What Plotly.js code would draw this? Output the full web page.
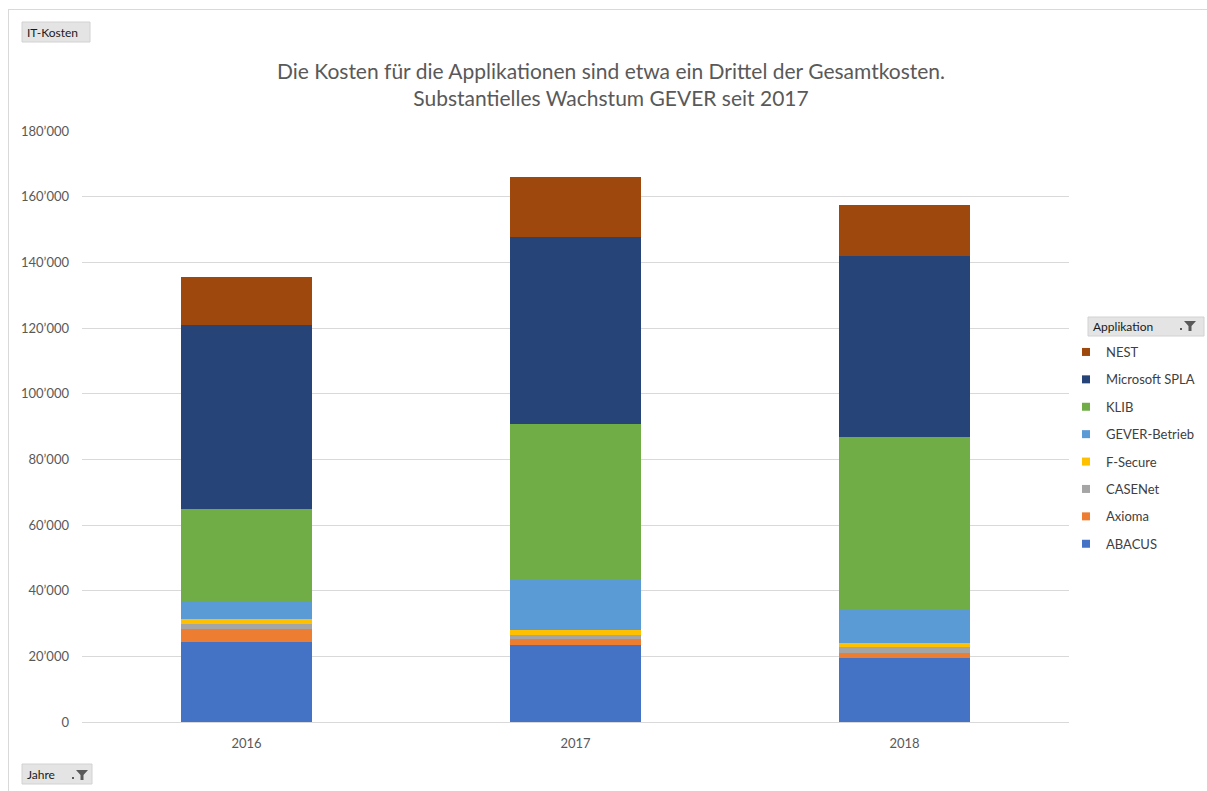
<!DOCTYPE html>
<html>
<head>
<meta charset="utf-8">
<script src="https://cdn.plot.ly/plotly-3.0.1.min.js"></script>
<style>
  html, body { margin: 0; padding: 0; background: #fff; }
  #chart { width: 1207px; height: 791px; }
  #frame { position: absolute; left: 8px; top: 9px; width: 1199px; height: 782px;
           border-top: 1px solid #d9d9d9; border-left: 1px solid #d9d9d9; pointer-events: none; }
</style>
</head>
<body>
<div id="chart"></div>
<div id="frame"></div>
<script>
const years = ['2016', '2017', '2018'];
const seriesNames = ['ABACUS', 'Axioma', 'CASENet', 'F-Secure', 'GEVER-Betrieb', 'KLIB', 'Microsoft SPLA', 'NEST'];
const ABACUS = [24500, 23500, 19400];
const Axioma = [3700, 1750, 1500];
const CASENet = [1700, 1300, 1850];
const FSecure = [1400, 1600, 1250];
const GEVER = [5600, 15100, 10100];
const KLIB = [28000, 47600, 52700];
const SPLA = [56000, 56900, 55100];
const NEST = [14600, 18300, 15600];
const seriesValues = [ABACUS, Axioma, CASENet, FSecure, GEVER, KLIB, SPLA, NEST];
const colors = ['#4472C4', '#ED7D31', '#A5A5A5', '#FFC000', '#5B9BD5', '#70AD47', '#264478', '#9E480E'];

const FONT = 'Lato, "Open Sans", sans-serif';
const W = 1207, H = 791;
const L = 82, RM = 0, T = 131, B = 722, PLOT_R = 1069;
const PW = W - L - RM;
const px2x = p => (p - L) / PW;
const py2y = p => (B - p) / (B - T);

const barTraces = seriesNames.map((n, i) => ({
  type: 'bar', name: n, x: years, y: seriesValues[i],
  showlegend: false,
  marker: { color: colors[i], line: { width: 0 } }
}));
// legend entries (small square swatches like the original)
const legendTraces = seriesNames.map((n, i) => ({
  type: 'scatter', mode: 'markers', name: n, x: [null], y: [null],
  legendgroup: n, legendrank: seriesNames.length - i,
  marker: { symbol: 'square', size: 8, color: colors[i] },
  hoverinfo: 'skip'
}));

function funnel(cx, cy) {
  const x = px2x, y = py2y;
  return [
    { type: 'path', xref: 'paper', yref: 'paper',
      path: `M ${x(cx-6)} ${y(cy-5)} L ${x(cx+6)} ${y(cy-5)} L ${x(cx+1.5)} ${y(cy)} L ${x(cx+1.5)} ${y(cy+5)} L ${x(cx-1.5)} ${y(cy+5)} L ${x(cx-1.5)} ${y(cy)} Z`,
      fillcolor: '#595959', line: { width: 0 } },
    { type: 'rect', xref: 'paper', yref: 'paper',
      x0: x(cx-10), x1: x(cx-8), y0: y(cy+4), y1: y(cy+2),
      fillcolor: '#595959', line: { width: 0 } }
  ];
}
function button(x0, y0, x1, y1) {
  return { type: 'rect', xref: 'paper', yref: 'paper',
    x0: px2x(x0), x1: px2x(x1), y0: py2y(y1), y1: py2y(y0),
    fillcolor: '#e4e4e4', line: { color: '#d2d2d2', width: 1 } };
}
function label(text, px, py) {
  return { text: text, xref: 'paper', yref: 'paper', x: px2x(px), y: py2y(py),
    xanchor: 'left', yanchor: 'middle', showarrow: false,
    font: { family: FONT, size: 12, color: '#1a1a1a' } };
}

const layout = {
  width: W, height: H,
  margin: { l: L, r: RM, t: T, b: H - B, pad: 0 },
  paper_bgcolor: '#fff', plot_bgcolor: '#fff',
  font: { family: FONT, size: 13, color: '#595959' },
  separators: '.’',
  barmode: 'stack',
  bargap: 0.6,
  title: {
    text: 'Die Kosten für die Applikationen sind etwa ein Drittel der Gesamtkosten.<br>Substantielles Wachstum GEVER seit 2017',
    font: { family: FONT, size: 21, color: '#595959' },
    x: 611 / W, xanchor: 'center', xref: 'container',
    y: 1 - 79 / H, yanchor: 'middle', yref: 'container'
  },
  xaxis: {
    type: 'category', domain: [0, (PLOT_R - L) / PW],
    showgrid: false, zeroline: false, showline: false,
    ticks: '', tickfont: { size: 13, color: '#595959' }, ticklabelstandoff: 12
  },
  yaxis: {
    range: [0, 180000], dtick: 20000, tickformat: ',d',
    showgrid: true, gridcolor: '#d9d9d9', gridwidth: 1,
    zeroline: true, zerolinecolor: '#d9d9d9', zerolinewidth: 1,
    showline: false, ticks: '', ticklabelstandoff: 12,
    tickfont: { size: 13, color: '#595959' }
  },
  showlegend: true,
  legend: {
    x: px2x(1066), xanchor: 'left', y: py2y(337), yanchor: 'top',
    traceorder: 'grouped', tracegroupgap: 7.5,
    font: { family: FONT, size: 13, color: '#404040' },
    itemwidth: 30, bgcolor: 'rgba(0,0,0,0)'
  },
  annotations: [
    label('IT-Kosten', 25, 32),
    label('Jahre', 25, 774),
    label('Applikation', 1091, 326)
  ],
  shapes: [button(22, 22, 90, 42), button(22, 764, 92, 784), button(1088, 317, 1204, 336)]
    .concat(funnel(82, 775), funnel(1190, 326))
};

Plotly.newPlot('chart', barTraces.concat(legendTraces), layout, { displayModeBar: false, staticPlot: true });
</script>
</body>
</html>
